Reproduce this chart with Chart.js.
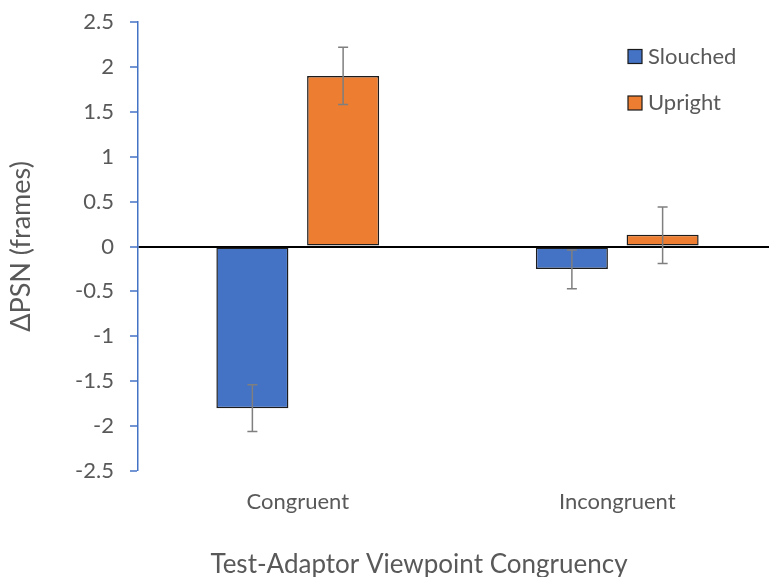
<!DOCTYPE html>
<html>
<head>
<meta charset="utf-8">
<script src="https://cdn.jsdelivr.net/npm/chart.js@4"></script>
<style>
html,body{margin:0;padding:0;overflow:hidden;background:#fff;width:769px;height:577px;}
#wrap{position:absolute;left:0;top:0;width:777px;height:577px;}
</style>
</head>
<body>
<div id="wrap"><canvas id="c"></canvas></div>
<script>
const categories = ['Congruent', 'Incongruent'];
const seriesNames = ['Slouched', 'Upright'];
const slouched = [-1.80, -0.25];
const upright = [1.90, 0.13];
const slouchedLow = [-2.06, -0.47];
const slouchedHigh = [-1.54, -0.04];
const uprightLow = [1.58, -0.19];
const uprightHigh = [2.22, 0.44];
const yTicks = [-2.5, -2, -1.5, -1, -0.5, 0, 0.5, 1, 1.5, 2, 2.5];
const xTitle = 'Test-Adaptor Viewpoint Congruency';
const yTitle = 'ΔPSN (frames)';

const FONT = 'Lato, "Open Sans", sans-serif';
const GRAY = '#595959';

const errorBars = {
  id: 'errorBars',
  afterDatasetsDraw(chart) {
    const ctx = chart.ctx, y = chart.scales.y;
    const errs = [[slouchedLow, slouchedHigh], [uprightLow, uprightHigh]];
    ctx.save();
    ctx.strokeStyle = '#7f7f7f';
    ctx.lineWidth = 1.5;
    chart.data.datasets.forEach((ds, di) => {
      const meta = chart.getDatasetMeta(di);
      meta.data.forEach((bar, i) => {
        const x = bar.x;
        const y1 = y.getPixelForValue(errs[di][0][i]);
        const y2 = y.getPixelForValue(errs[di][1][i]);
        ctx.beginPath();
        ctx.moveTo(x, y1); ctx.lineTo(x, y2);
        ctx.moveTo(x - 5, y1); ctx.lineTo(x + 5, y1);
        ctx.moveTo(x - 5, y2); ctx.lineTo(x + 5, y2);
        ctx.stroke();
      });
    });
    ctx.restore();
  }
};

const customLegend = {
  id: 'customLegend',
  afterDraw(chart) {
    const ctx = chart.ctx;
    ctx.save();
    ctx.font = '22px ' + FONT;
    ctx.textBaseline = 'middle';
    ctx.textAlign = 'left';
    chart.data.datasets.forEach((ds, i) => {
      const top = 49.5 + i * 46.5;
      ctx.fillStyle = ds.backgroundColor;
      ctx.fillRect(628, top, 14, 14);
      ctx.strokeStyle = '#1a1a1a';
      ctx.lineWidth = 1.2;
      ctx.strokeRect(628, top, 14, 14);
      ctx.fillStyle = GRAY;
      ctx.fillText(ds.label, 648, top + 7);
    });
    // x-axis title (centred as in the original figure)
    ctx.font = '26px ' + FONT;
    ctx.textAlign = 'center';
    ctx.fillText(xTitle, 419, 565);
    ctx.restore();
  }
};

new Chart(document.getElementById('c'), {
  type: 'bar',
  data: {
    labels: categories,
    datasets: [
      { label: seriesNames[0], data: slouched, backgroundColor: '#4472C4', borderColor: '#1c1c1c', borderWidth: 1.5, borderSkipped: false },
      { label: seriesNames[1], data: upright, backgroundColor: '#ED7D31', borderColor: '#1c1c1c', borderWidth: 1.5, borderSkipped: false }
    ]
  },
  options: {
    responsive: true,
    maintainAspectRatio: false,
    animation: false,
    layout: { padding: { top: 22, right: 0, bottom: 0, left: 0 } },
    datasets: { bar: { categoryPercentage: 0.568, barPercentage: 0.794 } },
    plugins: { legend: { display: false }, tooltip: { enabled: false } },
    scales: {
      x: {
        afterFit(s) { s.height = 106; },
        grid: { display: false, drawTicks: false },
        border: { display: false },
        ticks: { color: GRAY, font: { family: FONT, size: 22, lineHeight: 1.2 }, padding: 18 },
        title: { display: false, text: xTitle }
      },
      y: {
        min: -2.5, max: 2.5,
        afterBuildTicks(s) { s.ticks = yTicks.map(v => ({ value: v })); },
        afterFit(s) { s.width = 138; },
        grid: {
          color: c => (c.tick && c.tick.value === 0) ? '#000000' : 'rgba(0,0,0,0)',
          lineWidth: c => (c.tick && c.tick.value === 0) ? 2 : 0,
          tickColor: '#4472C4', tickLength: 8, tickWidth: 1.5
        },
        border: { display: true, color: '#4472C4', width: 1.5 },
        ticks: { color: GRAY, font: { family: FONT, size: 22, lineHeight: 0.1 }, padding: 16, callback: v => String(v) },
        title: { display: true, text: yTitle, color: GRAY, font: { family: FONT, size: 27, lineHeight: 1 }, padding: { top: 8, bottom: 0 } }
      }
    }
  },
  plugins: [errorBars, customLegend]
});
</script>
</body>
</html>
